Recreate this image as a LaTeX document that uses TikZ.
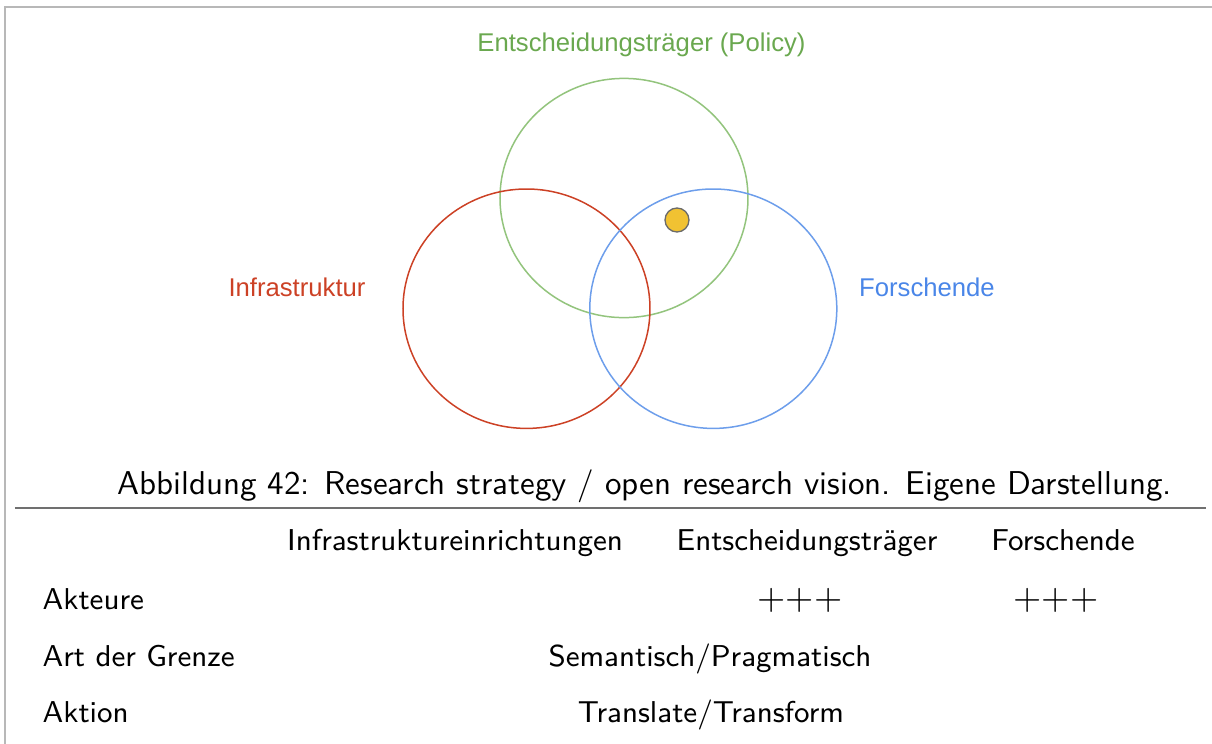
\documentclass[tikz,border=0pt]{standalone}
\usepackage{fontspec}
\newfontfamily\arialfont{Liberation Sans}
\definecolor{gcirc}{HTML}{93C47D}
\definecolor{rcirc}{HTML}{CC4125}
\definecolor{bcirc}{HTML}{6D9EEB}
\definecolor{gtext}{HTML}{6AA84F}
\definecolor{rtext}{HTML}{CC4125}
\definecolor{btext}{HTML}{4A86E8}
\definecolor{dotfill}{HTML}{F1C232}
\definecolor{dotline}{HTML}{6B6B6B}
\definecolor{framegray}{HTML}{B8B8B8}
\definecolor{rulegray}{HTML}{707070}
\begin{document}
\begin{tikzpicture}[x=0.3pt,y=-0.3pt,
  venn/.style={line width=0.45pt},
  lbl/.style={font=\arialfont\fontsize{7.7}{9}\selectfont, anchor=base, inner sep=0pt},
  tab/.style={font=\sffamily\fontsize{9.05}{11}\selectfont, anchor=base, inner sep=0pt},
  capt/.style={font=\sffamily\fontsize{9.9}{11.5}\selectfont, anchor=base, inner sep=0pt},
  plus/.style={font=\rmfamily\fontsize{10.9}{12}\selectfont, anchor=base, inner sep=0pt},
  tabl/.style={tab, anchor=base west}]
\useasboundingbox (0,0) rectangle (1212,744);
% frame
\draw[framegray, line width=0.6pt] (5.5,744) -- (5.5,7) -- (1212,7);
% circles
\draw[venn, gcirc] (624,198) ellipse [x radius=124, y radius=119.6];
\draw[venn, rcirc] (526.5,308.7) ellipse [x radius=123.5, y radius=119.7];
\draw[venn, bcirc] (713.3,308.7) ellipse [x radius=123.5, y radius=119.7];
\node[circle, draw=dotline, fill=dotfill, line width=0.4pt, minimum size=7.2pt, inner sep=0pt] (dot) at (677,220) {};
% labels
\node[lbl, text=gtext] (policy) at (641.5,51) {Entscheidungsträger (Policy)};
\node[lbl, text=rtext] (infra) at (297,296) {Infrastruktur};
\node[lbl, text=btext] (forsch) at (927,296) {Forschende};
% caption
\node[capt] (cap) at (644.5,494) {Abbildung 42: Research strategy / open research vision. Eigene Darstellung.};
\draw[rulegray, line width=0.45pt] (15,508) -- (1206,508);
% table
\node[tab] (h1) at (455,550) {Infrastruktureinrichtungen};
\node[tab] (h2) at (807,550) {Entscheidungsträger};
\node[tab] (h3) at (1063,550) {Forschende};
\node[tabl] (r1) at (42,609) {Akteure};
\node[tabl] (r2) at (42,666) {Art der Grenze};
\node[tabl] (r3) at (42,722) {Aktion};
\node[plus] (p1) at (800,609) {+++};
\node[plus] (p2) at (1056,609) {+++};
\node[tab] (s1) at (710,666) {Semantisch/Pragmatisch};
\node[tab] (s2) at (711,722) {Translate/Transform};
\end{tikzpicture}
\end{document}
